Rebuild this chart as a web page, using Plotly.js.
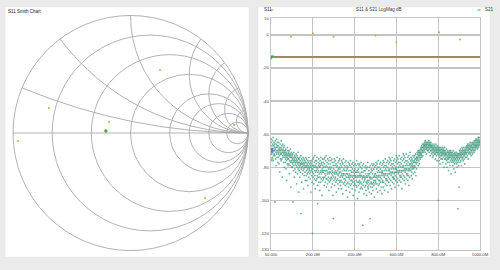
<!DOCTYPE html>
<html>
<head>
<meta charset="utf-8">
<script src="https://cdn.plot.ly/plotly-3.0.1.min.js"></script>
<style>html,body{margin:0;padding:0;background:#ebebeb;}#chart{width:500px;height:270px;}</style>
</head>
<body>
<div id="chart"></div>
<script>
// ---- Data ----
// Sweep: 1201 points, 50 kHz .. 1000 MHz (values in MHz)
const sweepStartMHz = 0.05;
const sweepStopMHz = 1000;
const sweepPoints = 1201;

// S21 LogMag (dB)
const s21Db = [
-69,-65,-71,-63,-72,-67,-70,-74,-64,-71,-66,-69,-76,-62,-70,-73,-67,-65,-72,-68,
-70,-66,-73,-101,-69,-64,-75,-68,-71,-79,-66,-70,-63,-72,-68,-74,-67,-70,-65,-77,
-71,-67,-74,-69,-72,-65,-78,-70,-68,-73,-83,-69,-71,-66,-75,-70,-72,-68,-76,-64,
-72,-69,-75,-67,-71,-86,-70,-73,-66,-74,-69,-71,-77,-68,-72,-70,-80,-67,-73,-71,
-74,-70,-77,-72,-75,-69,-81,-73,-71,-76,-88,-72,-74,-68,-78,-73,-75,-70,-79,-72,
-75,-71,-78,-73,-70,-84,-74,-76,-72,-79,-73,-69,-77,-74,-92,-72,-76,-71,-80,-74,
-77,-73,-80,-75,-78,-72,-101,-76,-74,-82,-77,-71,-79,-75,-86,-76,-73,-81,-77,-74,
-78,-74,-83,-76,-72,-79,-75,-90,-77,-73,-80,-76,-84,-74,-78,-71,-77,-81,-75,-95,
-79,-75,-82,-77,-80,-74,-86,-78,-76,-83,-79,-73,-108,-78,-81,-77,-89,-75,-80,-78,
-80,-76,-84,-78,-74,-82,-79,-93,-77,-81,-75,-85,-78,-80,-76,-83,-79,-88,-77,-74,
-80,-77,-85,-79,-82,-75,-88,-80,-78,-84,-81,-76,-91,-79,-83,-77,-86,-80,-74,-82,
-81,-78,-84,-80,-76,-87,-79,-83,-77,-95,-80,-82,-78,-85,-81,-76,-89,-79,-120,-83,
-81,-75,-86,-79,-84,-74,-90,-80,-77,-87,-82,-73,-85,-79,-93,-76,-83,-80,-88,-78,
-82,-76,-87,-80,-74,-85,-81,-91,-102,-83,-77,-86,-79,-82,-75,-89,-80,-84,-78,-94,
-80,-86,-76,-83,-79,-89,-74,-82,-87,-78,-84,-77,-97,-81,-83,-75,-88,-79,-82,-86,
-83,-77,-87,-80,-75,-91,-82,-78,-86,-74,-84,-80,-89,-76,-85,-82,-73,-87,-79,-92,
-82,-87,-77,-84,-80,-90,-75,-83,-88,-78,-86,-81,-94,-76,-84,-80,-89,-83,-74,-87,
-83,-78,-88,-81,-76,-86,-80,-92,-84,-75,-87,-82,-90,-77,-85,-83,-97,-79,-111,-86,
-81,-88,-77,-84,-75,-91,-83,-79,-87,-76,-86,-82,-89,-84,-78,-95,-83,-80,-88,-74,
-84,-79,-87,-82,-90,-77,-85,-81,-93,-76,-84,-88,-80,-83,-75,-89,-81,-86,-78,-91,
-83,-88,-79,-85,-76,-93,-84,-80,-89,-77,-86,-82,-96,-78,-85,-84,-75,-90,-81,-87,
-84,-79,-89,-82,-87,-77,-91,-85,-80,-88,-76,-84,-94,-82,-86,-79,-90,-84,-81,-98,
-84,-89,-80,-86,-77,-92,-85,-82,-90,-78,-87,-84,-95,-79,-86,-85,-76,-91,-82,-88,
-85,-80,-90,-83,-88,-78,-93,-86,-81,-89,-77,-85,-97,-83,-87,-79,-91,-85,-82,-89,
-84,-90,-81,-86,-78,-94,-85,-83,-91,-79,-88,-86,-76,-92,-83,-89,-82,-99,-85,-78,
-86,-81,-91,-83,-89,-79,-95,-85,-88,-78,-90,-84,-86,-93,-80,-89,-85,-77,-92,-83,
-85,-90,-81,-87,-79,-93,-86,-115,-83,-91,-86,-78,-89,-85,-96,-82,-88,-80,-92,-86,
-87,-82,-91,-84,-79,-94,-86,-89,-81,-97,-85,-90,-80,-88,-86,-92,-77,-89,-84,-93,
-85,-91,-82,-88,-80,-95,-86,-84,-90,-111,-87,-79,-92,-86,-83,-89,-96,-81,-90,-78,
-87,-82,-92,-84,-90,-79,-94,-86,-89,-81,-91,-78,-88,-85,-98,-86,-80,-90,-84,-88,
-84,-89,-79,-86,-77,-93,-85,-81,-90,-78,-87,-83,-95,-80,-86,-85,-76,-91,-82,-88,
-85,-80,-90,-83,-88,-78,-94,-86,-81,-89,-77,-85,-92,-83,-87,-79,-96,-84,-82,-89,
-83,-88,-78,-85,-76,-92,-84,-80,-89,-77,-86,-82,-94,-79,-85,-84,-75,-90,-81,-87,
-84,-79,-88,-82,-87,-77,-91,-85,-80,-88,-76,-84,-95,-82,-86,-78,-89,-84,-81,-74,
-82,-87,-77,-84,-75,-91,-83,-79,-88,-76,-85,-81,-93,-78,-84,-83,-74,-89,-80,-86,
-83,-78,-87,-81,-86,-76,-90,-84,-79,-87,-75,-83,-92,-81,-85,-77,-88,-83,-80,-73,
-81,-86,-76,-83,-74,-89,-82,-78,-87,-75,-84,-80,-91,-77,-83,-82,-73,-88,-79,-85,
-82,-77,-86,-80,-85,-75,-89,-83,-78,-86,-74,-82,-93,-80,-84,-76,-87,-82,-79,-72,
-80,-85,-75,-82,-73,-88,-81,-77,-86,-74,-83,-79,-90,-76,-82,-81,-72,-87,-78,-84,
-81,-76,-85,-79,-84,-74,-88,-82,-77,-85,-73,-81,-91,-79,-82,-75,-86,-81,-78,-71,
-78,-82,-76,-80,-74,-85,-79,-77,-83,-75,-81,-78,-87,-76,-80,-79,-73,-84,-77,-81,
-77,-74,-80,-76,-79,-73,-83,-77,-75,-80,-72,-77,-85,-75,-78,-74,-81,-76,-74,-71,
-74,-77,-72,-75,-70,-79,-73,-71,-76,-70,-74,-72,-78,-71,-73,-70,-75,-72,-69,-74,
-71,-68,-73,-69,-72,-67,-74,-70,-68,-71,-66,-70,-73,-68,-69,-66,-71,-68,-67,-70,
-67,-65,-69,-66,-68,-64,-71,-67,-66,-69,-65,-68,-72,-66,-67,-69,-65,-68,-70,-66,
-68,-66,-70,-65,-67,-69,-64,-68,-71,-66,-67,-65,-69,-67,-73,-66,-68,-70,-65,-67,
-68,-70,-67,-72,-69,-66,-71,-68,-74,-69,-67,-70,-73,-68,-71,-69,-66,-72,-70,-68,
-70,-67,-72,-69,-75,-68,-71,-66,-70,-73,-69,-71,-68,-76,-70,-67,-72,-69,-71,-68,
-100,-71,-69,-73,-70,-76,-68,-72,-70,-74,-69,-78,-71,-70,-73,-68,-75,-71,-72,-69,
-71,-73,-69,-75,-70,-72,-68,-77,-71,-70,-74,-69,-72,-80,-70,-73,-71,-68,-75,-72,
-73,-70,-75,-72,-78,-71,-74,-69,-76,-72,-80,-73,-71,-75,-70,-77,-73,-74,-71,-82,
-72,-75,-71,-74,-70,-77,-73,-72,-79,-71,-74,-76,-70,-73,-84,-72,-75,-71,-73,-77,
-74,-71,-76,-73,-79,-72,-75,-70,-77,-74,-81,-73,-76,-72,-78,-74,-71,-75,-83,-73,
-75,-72,-77,-73,-76,-71,-78,-74,-73,-80,-72,-75,-74,-77,-105,-73,-76,-72,-79,-74,
-92,-72,-75,-70,-73,-77,-71,-74,-69,-72,-76,-70,-73,-79,-71,-74,-68,-72,-75,-70,
-72,-69,-74,-71,-76,-70,-73,-68,-72,-75,-70,-73,-71,-78,-69,-72,-70,-74,-71,-68,
-71,-68,-72,-69,-74,-67,-70,-68,-73,-66,-71,-69,-75,-67,-70,-68,-72,-66,-69,-71,
-69,-67,-71,-68,-65,-72,-69,-67,-70,-66,-73,-68,-70,-67,-71,-65,-69,-68,-72,-66,
-68,-66,-70,-65,-69,-67,-71,-64,-68,-66,-70,-65,-67,-69,-64,-66,-68,-63,-67,-65,
-67,-64,-68,-66,-63,-69,-65,-67,-64,-66,-62,-68,-65,-63,-67,-64,-66,-62,-65,-64,
-65
];

// S11 LogMag: flat trace level and scattered points
const s11LineFreq = [0.05, 1000];
const s11LineDb = [-13.4, -13.4];
const s11DotFreq = [96, 200, 300, 500, 600, 804, 904];
const s11DotDb = [-1.2, 1.0, -1.2, -0.4, -4.4, 1.6, -2.8];

// Markers at sweep start
const s11MarkerDb = [-13.4];
const s21MarkerDb = [-69.6, -75.3];

// Axis ticks
const xTickVals = [0.05, 200, 400, 600, 800, 1000];
const xTickText = ['50.00k', '200.0M', '400.0M', '600.0M', '800.0M', '1000.0M'];
const yTickVals = [10, 0, -20, -40, -60, -80, -100, -120, -130];
const yTickText = ['10', '0', '-20', '-40', '-60', '-80', '-100', '-120', '-130'];

// Smith chart (normalized impedance)
const smithDotRe = [0.766, 0.162, 0.680, 11.66, 0.021, 0.664];
const smithDotIm = [1.264, 0.146, 0.134, 7.24, -0.036, -2.514];
const smithMarkerRe = [0.653];
const smithMarkerIm = [0.023];
const smithGridR = [0.2, 0.5, 1, 2, 3, 5, 10];
const smithGridX = [0.2, 0.5, 1, 2, 3, 5, 10];

// ---- Build ----
const sweepFreq = [];
for (let i = 0; i < sweepPoints; i++) {
  sweepFreq.push(sweepStartMHz + (sweepStopMHz - sweepStartMHz) * i / (sweepPoints - 1));
}

const px = x => x / 500;
const py = y => 1 - y / 270;
const FONT = 'Liberation Sans, Arial, sans-serif';
const gridCol = '#c4c4c4';
const smithGrid = '#a9a9a9';
const teal = 'rgba(78,162,138,0.85)';
const orange = '#d9a04a';

const traces = [
  {type:'scattersmith', real: smithDotRe, imag: smithDotIm, mode:'markers',
   marker:{color:orange, size:2}, hoverinfo:'skip'},
  {type:'scattersmith', real: smithMarkerRe, imag: smithMarkerIm, mode:'markers',
   marker:{color:'#3fae4a', size:3.2, symbol:'diamond', line:{color:orange, width:0.5}}, hoverinfo:'skip'},
  {type:'scatter', x: sweepFreq, y: s21Db, mode:'markers',
   marker:{color:teal, size:1.8}, hoverinfo:'skip'},
  {type:'scatter', x: s11LineFreq, y: s11LineDb, mode:'lines',
   line:{color:'#9d8a55', width:2}, hoverinfo:'skip'},
  {type:'scatter', x: s11DotFreq, y: s11DotDb, mode:'markers',
   marker:{color:orange, size:2}, hoverinfo:'skip'},
  {type:'scatter', x: [sweepStartMHz], y: s11MarkerDb, mode:'markers',
   marker:{color:'#4a6fd0', size:5, symbol:'triangle-down', line:{color:'#3fd04a', width:0.8}}, hoverinfo:'skip'},
  {type:'scatter', x: [sweepStartMHz], y: [s21MarkerDb[0]], mode:'markers',
   marker:{color:'#5d7fe0', size:4.5, symbol:'square'}, hoverinfo:'skip'},
  {type:'scatter', x: [sweepStartMHz], y: [s21MarkerDb[1]], mode:'markers',
   marker:{color:'#5fd060', size:5, symbol:'triangle-down'}, hoverinfo:'skip'}
];

const layout = {
  width:500, height:270, margin:{l:0,r:0,t:0,b:0},
  paper_bgcolor:'#ebebeb', plot_bgcolor:'rgba(0,0,0,0)', showlegend:false,
  font:{family:FONT, size:4.5, color:'#444'},
  shapes:[
    {type:'rect', xref:'paper', yref:'paper', x0:px(5), x1:px(249), y0:py(257), y1:py(7),
     fillcolor:'#ffffff', line:{color:'#e0e0e0', width:0.5}, layer:'below'},
    {type:'rect', xref:'paper', yref:'paper', x0:px(258), x1:px(490), y0:py(257), y1:py(7),
     fillcolor:'#ffffff', line:{color:'#e0e0e0', width:0.5}, layer:'below'},
    {type:'line', xref:'paper', yref:'paper', x0:px(270.3), x1:px(273.6), y0:py(10), y1:py(10),
     line:{color:'#e09a30', width:1}},
    {type:'line', xref:'paper', yref:'paper', x0:px(477.5), x1:px(480.7), y0:py(10), y1:py(10),
     line:{color:'#3aa070', width:1}}
  ],
  annotations:[
    {text:'S11 Smith Chart', xref:'paper', yref:'paper', x:px(6), y:py(11), xanchor:'left', yanchor:'middle',
     showarrow:false, font:{size:4.5, color:'#222', family:FONT}},
    {text:'S11', xref:'paper', yref:'paper', x:px(262), y:py(10), xanchor:'left', yanchor:'middle',
     showarrow:false, font:{size:4.5, color:'#333', family:FONT}},
    {text:'S11 &amp; S21 LogMag dB', xref:'paper', yref:'paper', x:px(378), y:py(10), xanchor:'center', yanchor:'middle',
     showarrow:false, font:{size:4.5, color:'#333', family:FONT}},
    {text:'S21', xref:'paper', yref:'paper', x:px(482.5), y:py(10), xanchor:'left', yanchor:'middle',
     showarrow:false, font:{size:4.5, color:'#333', family:FONT}}
  ],
  smith:{
    domain:{x:[px(13), px(248)], y:[py(250.5), py(15.5)]},
    bgcolor:'rgba(0,0,0,0)',
    realaxis:{tickvals:smithGridR, showticklabels:false, ticks:'', gridcolor:smithGrid, gridwidth:0.9,
              linecolor:smithGrid, linewidth:0.9, showline:true},
    imaginaryaxis:{tickvals:smithGridX, showticklabels:false, ticks:'', gridcolor:smithGrid, gridwidth:0.9,
              linecolor:smithGrid, linewidth:0.9, showline:true}
  },
  xaxis:{domain:[px(271), px(480)], range:[sweepStartMHz, sweepStopMHz], tickmode:'array',
         tickvals:xTickVals, ticktext:xTickText, showgrid:true, gridcolor:gridCol, gridwidth:1.4,
         zeroline:false, showline:true, mirror:true, linecolor:gridCol, linewidth:1.4, ticks:'',
         tickfont:{size:4.2, color:'#444', family:FONT}, fixedrange:true},
  yaxis:{domain:[py(250), py(18.3)], range:[-130, 10], tickmode:'array',
         tickvals:yTickVals, ticktext:yTickText, showgrid:true, gridcolor:gridCol, gridwidth:1.4,
         zeroline:false, showline:true, mirror:true, linecolor:gridCol, linewidth:1.4, ticks:'',
         tickfont:{size:4.2, color:'#444', family:FONT}, fixedrange:true}
};

Plotly.newPlot('chart', traces, layout, {staticPlot:true, displayModeBar:false});
</script>
</body>
</html>
